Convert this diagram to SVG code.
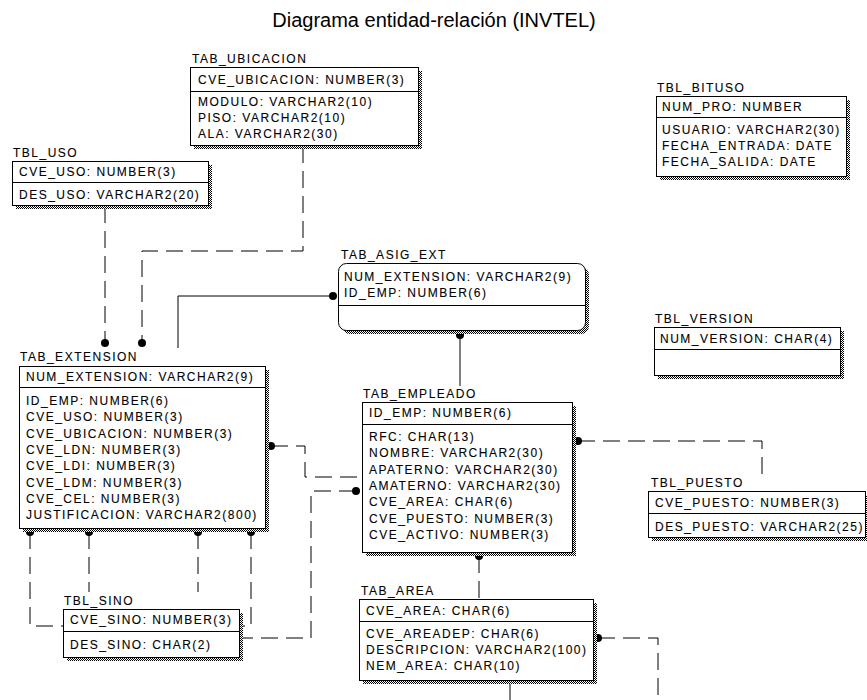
<svg xmlns="http://www.w3.org/2000/svg" width="867" height="700" viewBox="0 0 867 700">
  <defs>
    <!-- 1px checker used for the drop shadows of the tables -->
    <pattern id="dither" width="2" height="2" patternUnits="userSpaceOnUse">
      <rect width="2" height="2" fill="#ffffff"/>
      <rect width="1" height="1" fill="#000000"/>
      <rect x="1" y="1" width="1" height="1" fill="#000000"/>
    </pattern>
  </defs>
  <style>
    .title { font-family: "Liberation Sans", Arial, sans-serif; font-size: 20px; fill: #000; }
    .t { font-family: "Liberation Sans", Arial, sans-serif; font-size: 12px; letter-spacing: 1.5px; fill: #000; stroke: #000; stroke-width: 0.1px; }
    .box { fill: #ffffff; stroke: #000; stroke-width: 1; }
    .shadow { fill: url(#dither); stroke: none; }
    .div { stroke: #000; stroke-width: 1; }
    .rel { fill: none; stroke: #000; stroke-width: 1; }
    .dash { stroke-dasharray: 17 8; }
    .dot { fill: #000; }
  </style>

  <rect width="867" height="700" fill="#ffffff"/>

  <text class="title" x="434" y="27" text-anchor="middle">Diagrama entidad-relación (INVTEL)</text>

  <!-- relationships -->
  <g id="connectors">
    <!-- identifying (solid) -->
    <path class="rel" d="M178,348 V296 H333"/>
    <circle class="dot" cx="333" cy="296" r="4"/>
    <path class="rel" d="M460,335 V386"/>
    <circle class="dot" cx="460" cy="335" r="4"/>
    <path class="rel" d="M510,681 V700"/>

    <!-- non-identifying (dashed) -->
    <path class="rel dash" d="M303,146 V251 H142 V343"/>
    <circle class="dot" cx="142" cy="343" r="4"/>
    <path class="rel dash" d="M105,206 V343"/>
    <circle class="dot" cx="105" cy="343" r="4"/>

    <path class="rel dash" d="M271,446 H305 V477 H362"/>
    <circle class="dot" cx="271" cy="446" r="4"/>
    <path class="rel dash" d="M356,491 H311 V638 H240"/>
    <circle class="dot" cx="356" cy="491" r="4"/>

    <path class="rel dash" d="M30,532 V626 H63"/>
    <circle class="dot" cx="30" cy="532" r="4"/>
    <path class="rel dash" d="M89,532 V592"/>
    <circle class="dot" cx="89" cy="532" r="4"/>
    <path class="rel dash" d="M198,532 V592"/>
    <circle class="dot" cx="198" cy="532" r="4"/>
    <path class="rel dash" d="M251,532 V626 H240"/>
    <circle class="dot" cx="251" cy="532" r="4"/>

    <path class="rel dash" d="M578,441 H762 V480"/>
    <circle class="dot" cx="578" cy="441" r="4"/>
    <path class="rel dash" d="M479,556 V600"/>
    <circle class="dot" cx="479" cy="556" r="4"/>
    <path class="rel dash" d="M598,638 H658 V700"/>
    <circle class="dot" cx="598" cy="638" r="4"/>
  </g>

  <g id="tab_ubicacion">
    <text class="t" x="192" y="63">TAB_UBICACION</text>
    <rect class="shadow" x="194" y="71" width="228" height="78"/>
    <rect class="box" x="190.5" y="67.5" width="228" height="78"/>
    <line class="div" x1="190.5" y1="91.5" x2="418.5" y2="91.5"/>
    <text class="t" x="198" y="84">CVE_UBICACION: NUMBER(3)</text>
    <text class="t" x="198" y="106">MODULO: VARCHAR2(10)</text>
    <text class="t" x="198" y="122">PISO: VARCHAR2(10)</text>
    <text class="t" x="198" y="138">ALA: VARCHAR2(30)</text>
  </g>

  <g id="tbl_uso">
    <text class="t" x="13" y="157">TBL_USO</text>
    <rect class="shadow" x="16" y="165" width="196" height="44"/>
    <rect class="box" x="12.5" y="161.5" width="196" height="44"/>
    <line class="div" x1="12.5" y1="182.5" x2="208.5" y2="182.5"/>
    <text class="t" x="19" y="176">CVE_USO: NUMBER(3)</text>
    <text class="t" x="19" y="199">DES_USO: VARCHAR2(20)</text>
  </g>

  <g id="tbl_bituso">
    <text class="t" x="657" y="92">TBL_BITUSO</text>
    <rect class="shadow" x="660" y="100" width="190" height="80"/>
    <rect class="box" x="656.5" y="96.5" width="190" height="80"/>
    <line class="div" x1="656.5" y1="117.5" x2="846.5" y2="117.5"/>
    <text class="t" x="662" y="111">NUM_PRO: NUMBER</text>
    <text class="t" x="662" y="134">USUARIO: VARCHAR2(30)</text>
    <text class="t" x="662" y="150">FECHA_ENTRADA: DATE</text>
    <text class="t" x="662" y="166">FECHA_SALIDA: DATE</text>
  </g>

  <g id="tab_asig_ext">
    <text class="t" x="341" y="259">TAB_ASIG_EXT</text>
    <rect class="shadow" x="342" y="267" width="247" height="67" rx="8"/>
    <rect class="box" x="338.5" y="263.5" width="247" height="67" rx="8"/>
    <line class="div" x1="338.5" y1="305.5" x2="585.5" y2="305.5"/>
    <text class="t" x="344" y="281">NUM_EXTENSION: VARCHAR2(9)</text>
    <text class="t" x="344" y="297">ID_EMP: NUMBER(6)</text>
  </g>

  <g id="tbl_version">
    <text class="t" x="655" y="323">TBL_VERSION</text>
    <rect class="shadow" x="658" y="331" width="186" height="48"/>
    <rect class="box" x="654.5" y="327.5" width="186" height="48"/>
    <line class="div" x1="654.5" y1="349.5" x2="840.5" y2="349.5"/>
    <text class="t" x="660" y="343">NUM_VERSION: CHAR(4)</text>
  </g>

  <g id="tab_extension">
    <text class="t" x="20" y="361">TAB_EXTENSION</text>
    <rect class="shadow" x="23" y="370" width="246" height="162"/>
    <rect class="box" x="19.5" y="366.5" width="246" height="162"/>
    <line class="div" x1="19.5" y1="387.5" x2="265.5" y2="387.5"/>
    <text class="t" x="26" y="381">NUM_EXTENSION: VARCHAR2(9)</text>
    <text class="t" x="26" y="405">ID_EMP: NUMBER(6)</text>
    <text class="t" x="26" y="421.3">CVE_USO: NUMBER(3)</text>
    <text class="t" x="26" y="437.6">CVE_UBICACION: NUMBER(3)</text>
    <text class="t" x="26" y="453.9">CVE_LDN: NUMBER(3)</text>
    <text class="t" x="26" y="470.2">CVE_LDI: NUMBER(3)</text>
    <text class="t" x="26" y="486.5">CVE_LDM: NUMBER(3)</text>
    <text class="t" x="26" y="502.8">CVE_CEL: NUMBER(3)</text>
    <text class="t" x="26" y="519.1">JUSTIFICACION: VARCHAR2(800)</text>
  </g>

  <g id="tab_empleado">
    <text class="t" x="363" y="398">TAB_EMPLEADO</text>
    <rect class="shadow" x="366" y="406" width="210" height="150"/>
    <rect class="box" x="362.5" y="402.5" width="210" height="150"/>
    <line class="div" x1="362.5" y1="424.5" x2="572.5" y2="424.5"/>
    <text class="t" x="369" y="417">ID_EMP: NUMBER(6)</text>
    <text class="t" x="369" y="441">RFC: CHAR(13)</text>
    <text class="t" x="369" y="457.3">NOMBRE: VARCHAR2(30)</text>
    <text class="t" x="369" y="473.6">APATERNO: VARCHAR2(30)</text>
    <text class="t" x="369" y="489.9">AMATERNO: VARCHAR2(30)</text>
    <text class="t" x="369" y="506.2">CVE_AREA: CHAR(6)</text>
    <text class="t" x="369" y="522.5">CVE_PUESTO: NUMBER(3)</text>
    <text class="t" x="369" y="538.8">CVE_ACTIVO: NUMBER(3)</text>
  </g>

  <g id="tbl_puesto">
    <text class="t" x="651" y="487">TBL_PUESTO</text>
    <rect class="shadow" x="652" y="495" width="217" height="46"/>
    <rect class="box" x="648.5" y="491.5" width="217" height="46"/>
    <line class="div" x1="648.5" y1="513.5" x2="865.5" y2="513.5"/>
    <text class="t" x="655" y="507">CVE_PUESTO: NUMBER(3)</text>
    <text class="t" x="655" y="531">DES_PUESTO: VARCHAR2(25)</text>
  </g>

  <g id="tbl_sino">
    <text class="t" x="64" y="605">TBL_SINO</text>
    <rect class="shadow" x="67" y="613" width="176" height="48"/>
    <rect class="box" x="63.5" y="609.5" width="176" height="48"/>
    <line class="div" x1="63.5" y1="631.5" x2="239.5" y2="631.5"/>
    <text class="t" x="70" y="624">CVE_SINO: NUMBER(3)</text>
    <text class="t" x="70" y="649">DES_SINO: CHAR(2)</text>
  </g>

  <g id="tab_area">
    <text class="t" x="361" y="595">TAB_AREA</text>
    <rect class="shadow" x="363" y="603" width="234" height="81"/>
    <rect class="box" x="359.5" y="599.5" width="234" height="81"/>
    <line class="div" x1="359.5" y1="621.5" x2="593.5" y2="621.5"/>
    <text class="t" x="366" y="615">CVE_AREA: CHAR(6)</text>
    <text class="t" x="366" y="638">CVE_AREADEP: CHAR(6)</text>
    <text class="t" x="366" y="654">DESCRIPCION: VARCHAR2(100)</text>
    <text class="t" x="366" y="670">NEM_AREA: CHAR(10)</text>
  </g>
</svg>
